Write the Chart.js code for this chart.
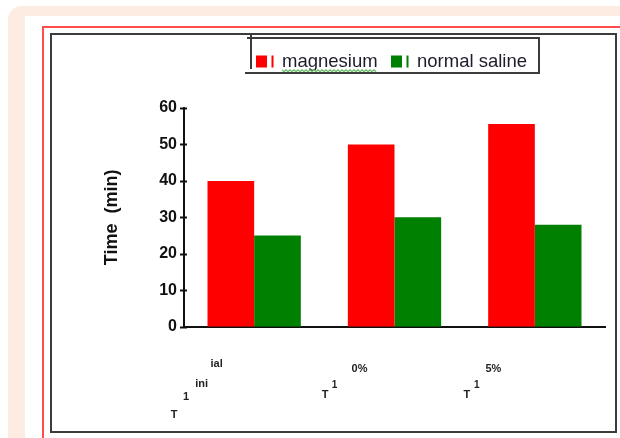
<!DOCTYPE html>
<html>
<head>
<meta charset="utf-8">
<script src="https://cdn.jsdelivr.net/npm/chart.js@4.4.1/dist/chart.umd.min.js"></script>
<style>
  html, body { margin: 0; padding: 0; background: #ffffff; }
  #wrap { position: relative; width: 620px; height: 438px; overflow: hidden; }
  .sheet {
    position: absolute; left: 8px; top: 6px; width: 680px; height: 480px;
    box-sizing: border-box;
    border-left: 17px solid #fcece1; border-top: 10px solid #fcece1;
    border-top-left-radius: 14px;
  }
  .margin-rule {
    position: absolute; left: 42px; top: 26px; width: 620px; height: 440px;
    box-sizing: border-box;
    border-left: 2px solid #ff4d4d; border-top: 2px solid #ff4d4d;
  }
  .plot-frame {
    position: absolute; left: 50px; top: 33px; width: 567px; height: 400px;
    box-sizing: border-box; border: 2px solid #3c3c3c;
  }
  canvas { position: absolute; left: 0; top: 0; }
</style>
</head>
<body>
<div id="wrap">
  <div class="sheet"></div>
  <div class="margin-rule"></div>
  <div class="plot-frame"></div>
  <canvas id="chart" width="620" height="438"></canvas>
</div>
<script>
// Time (min) per measurement point for the two study groups
const categories = ['T1 initial', 'T1 0%', 'T1 5%'];
const magnesium = [40, 50, 55.6];
const normalSaline = [25, 30, 28];
const yTicks = [0, 10, 20, 30, 40, 50, 60];
// category captions as they are split up under each group
const tickPieces = [
  ['T', '1', 'ini', 'ial'],
  ['T', '1', '0%'],
  ['T', '1', '5%']
];

// offsets (dx from category centre, dy below the x axis, font size) for each caption piece
const pieceLayout = [
  [[-80, 88, 11], [-68, 70, 11], [-52.5, 57, 11], [-37.5, 37, 11]],
  [[-69.5, 68.5, 11], [-60, 58.5, 10], [-35, 42.5, 11]],
  [[-68, 68.5, 11], [-58, 58.5, 10], [-41.4, 42.5, 11]]
];

const FONT = "'Liberation Sans', Arial, sans-serif";

const decorations = {
  id: 'decorations',
  afterDraw(chart) {
    const ctx = chart.ctx;
    const xs = chart.scales.x;
    const ys = chart.scales.y;
    const axisX = ys.right;
    const axisY = xs.top;

    // tick marks crossing the value axis
    ctx.save();
    ctx.strokeStyle = '#111';
    ctx.lineWidth = 2;
    yTicks.forEach(v => {
      const py = Math.round(ys.getPixelForValue(v)) + 0.5;
      ctx.beginPath();
      ctx.moveTo(axisX - 4, py);
      ctx.lineTo(axisX + 3, py);
      ctx.stroke();
    });
    ctx.restore();

    // category captions
    ctx.save();
    ctx.fillStyle = '#222';
    ctx.textAlign = 'center';
    ctx.textBaseline = 'middle';
    tickPieces.forEach((pieces, i) => {
      const cx = xs.getPixelForValue(i);
      pieces.forEach((txt, j) => {
        const [dx, dy, size] = pieceLayout[i][j];
        ctx.font = 'bold ' + size + 'px ' + FONT;
        ctx.fillText(txt, cx + dx, axisY + dy);
      });
    });
    ctx.restore();

    // legend
    ctx.save();
    const itemX = [256, 391];
    chart.data.datasets.forEach((ds, i) => {
      const x = itemX[i];
      ctx.fillStyle = ds.backgroundColor;
      ctx.fillRect(x, 55.5, 11, 12);
      ctx.fillRect(x + 15.5, 55.5, 2, 12);
      ctx.fillStyle = '#1c1c2c';
      ctx.font = '18.5px ' + FONT;
      ctx.textAlign = 'left';
      ctx.textBaseline = 'alphabetic';
      ctx.fillText(ds.label, x + 26, 67);
    });
    // wavy underline beneath the first legend entry
    const w = ctx.measureText(chart.data.datasets[0].label).width;
    ctx.strokeStyle = '#5fbf5f';
    ctx.lineWidth = 1.2;
    ctx.beginPath();
    for (let px = 282, k = 0; px <= 282 + w; px += 2, k++) {
      const py = 70.5 + (k % 2 ? 1.2 : -0.6);
      if (k === 0) ctx.moveTo(px, py); else ctx.lineTo(px, py);
    }
    ctx.stroke();
    // legend frame
    ctx.strokeStyle = '#3c3c3c';
    ctx.lineWidth = 2;
    ctx.beginPath();
    ctx.moveTo(247, 38); ctx.lineTo(539, 38); ctx.lineTo(539, 73);
    ctx.moveTo(245, 73); ctx.lineTo(540, 73);
    ctx.moveTo(251, 34); ctx.lineTo(251, 69);
    ctx.stroke();
    ctx.restore();
  }
};

new Chart(document.getElementById('chart'), {
  type: 'bar',
  data: {
    labels: categories,
    datasets: [
      { label: 'magnesium', data: magnesium, backgroundColor: '#ff0000' },
      { label: 'normal saline', data: normalSaline, backgroundColor: '#008000' }
    ]
  },
  options: {
    responsive: false,
    animation: false,
    devicePixelRatio: 1,
    layout: { padding: { top: 108, right: 15, left: 0, bottom: 0 } },
    datasets: { bar: { categoryPercentage: 0.665, barPercentage: 1.0 } },
    plugins: { legend: { display: false }, tooltip: { enabled: false } },
    scales: {
      x: {
        ticks: { display: false },
        grid: { display: false, drawTicks: false, tickLength: 0 },
        border: { display: true, color: '#111', width: 2 },
        afterFit(scale) { scale.height = 111.3; }
      },
      y: {
        min: 0,
        max: 60,
        afterBuildTicks(scale) { scale.ticks = yTicks.map(v => ({ value: v })); },
        ticks: {
          color: '#111',
          padding: 7,
          font: { family: FONT, size: 16, weight: 'bold' }
        },
        grid: { display: false, drawTicks: false, tickLength: 0 },
        border: { display: true, color: '#111', width: 2 },
        title: {
          display: true,
          text: 'Time  (min)',
          color: '#111',
          font: { family: FONT, size: 18, weight: 'bold' },
          padding: { top: 101.5, bottom: 0 }
        },
        afterFit(scale) { scale.width = 184; }
      }
    }
  },
  plugins: [decorations]
});
</script>
</body>
</html>
